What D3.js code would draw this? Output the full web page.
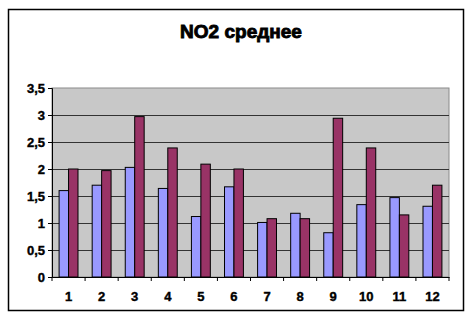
<!DOCTYPE html>
<html>
<head>
<meta charset="utf-8">
<script src="https://cdn.jsdelivr.net/npm/d3@7"></script>
<style>
  body { margin: 0; background: #fff; }
  text { font-family: "Liberation Sans", Arial, sans-serif; font-weight: bold; }
</style>
</head>
<body>
<svg id="chart" width="474" height="320"></svg>
<script>
const months = ["1","2","3","4","5","6","7","8","9","10","11","12"];
const series1 = [1.60, 1.70, 2.03, 1.64, 1.12, 1.67, 1.01, 1.18, 0.82, 1.34, 1.47, 1.31];
const series2 = [2.00, 1.97, 2.97, 2.39, 2.09, 2.00, 1.08, 1.08, 2.94, 2.39, 1.15, 1.70];
const yTicks = [0, 0.5, 1, 1.5, 2, 2.5, 3, 3.5];
const colors = ["#9999ff", "#993366"];

const svg = d3.select("#chart");
const margin = {top: 88, right: 25, bottom: 43, left: 52};
const width = 474 - margin.left - margin.right;
const height = 320 - margin.top - margin.bottom;

// outer frame
svg.append("rect")
   .attr("x", 8.5).attr("y", 9.5)
   .attr("width", 455).attr("height", 301)
   .attr("fill", "#fff")
   .attr("stroke", "#000")
   .attr("stroke-width", 1.5);

svg.append("text")
   .attr("x", 241).attr("y", 38)
   .attr("text-anchor", "middle")
   .style("font-size", "19px")
   .attr("stroke", "#000")
   .attr("stroke-width", 0.9)
   .text("NO2 среднее");

const g = svg.append("g").attr("transform", `translate(${margin.left},${margin.top})`);

const x = d3.scaleBand().domain(months).range([0, width]).paddingInner(0).paddingOuter(0);
const y = d3.scaleLinear().domain([0, 3.5]).range([height, 0]);
const barW = x.bandwidth() / 3.5;

g.append("rect")
 .attr("width", width).attr("height", height)
 .attr("fill", "#c8c8c8")
 .attr("stroke", "#8a8a8a")
 .attr("stroke-width", 1);

g.selectAll(".grid")
 .data(yTicks.filter(d => d > 0 && d < 3.5))
 .enter().append("line")
 .attr("x1", 0).attr("x2", width)
 .attr("y1", d => Math.round(y(d)) + 0.5).attr("y2", d => Math.round(y(d)) + 0.5)
 .attr("stroke", "#333")
 .attr("stroke-width", 1);

[series1, series2].forEach((s, i) => {
  g.selectAll(".bar" + i)
   .data(s)
   .enter().append("rect")
   .attr("x", (d, j) => x(months[j]) + barW * 0.75 + i * barW)
   .attr("y", d => y(d))
   .attr("width", barW)
   .attr("height", d => height - y(d))
   .attr("fill", colors[i])
   .attr("stroke", "#000")
   .attr("stroke-width", 1);
});

const yAxis = d3.axisLeft(y).tickValues(yTicks).tickSize(4).tickFormat(d => String(d).replace(".", ","));
g.append("g").call(yAxis)
 .call(a => a.select(".domain").attr("stroke", "#000"))
 .call(a => a.selectAll("text").style("font-size", "13px").attr("fill", "#000")
   .attr("stroke", "#000").attr("stroke-width", 0.4));

const xAxis = d3.axisBottom(x).tickSize(0).tickSizeOuter(0);
const xa = g.append("g").attr("transform", `translate(0,${height})`).call(xAxis);
xa.select(".domain").attr("stroke", "#000");
xa.selectAll("text").attr("dy", "0").attr("y", 24).style("font-size", "13px").attr("fill", "#000")
  .attr("stroke", "#000").attr("stroke-width", 0.4);

xa.selectAll(".sep")
  .data(d3.range(months.length + 1))
  .enter().append("line")
  .attr("x1", d => d * x.step()).attr("x2", d => d * x.step())
  .attr("y1", 0).attr("y2", 4)
  .attr("stroke", "#000");
</script>
</body>
</html>
